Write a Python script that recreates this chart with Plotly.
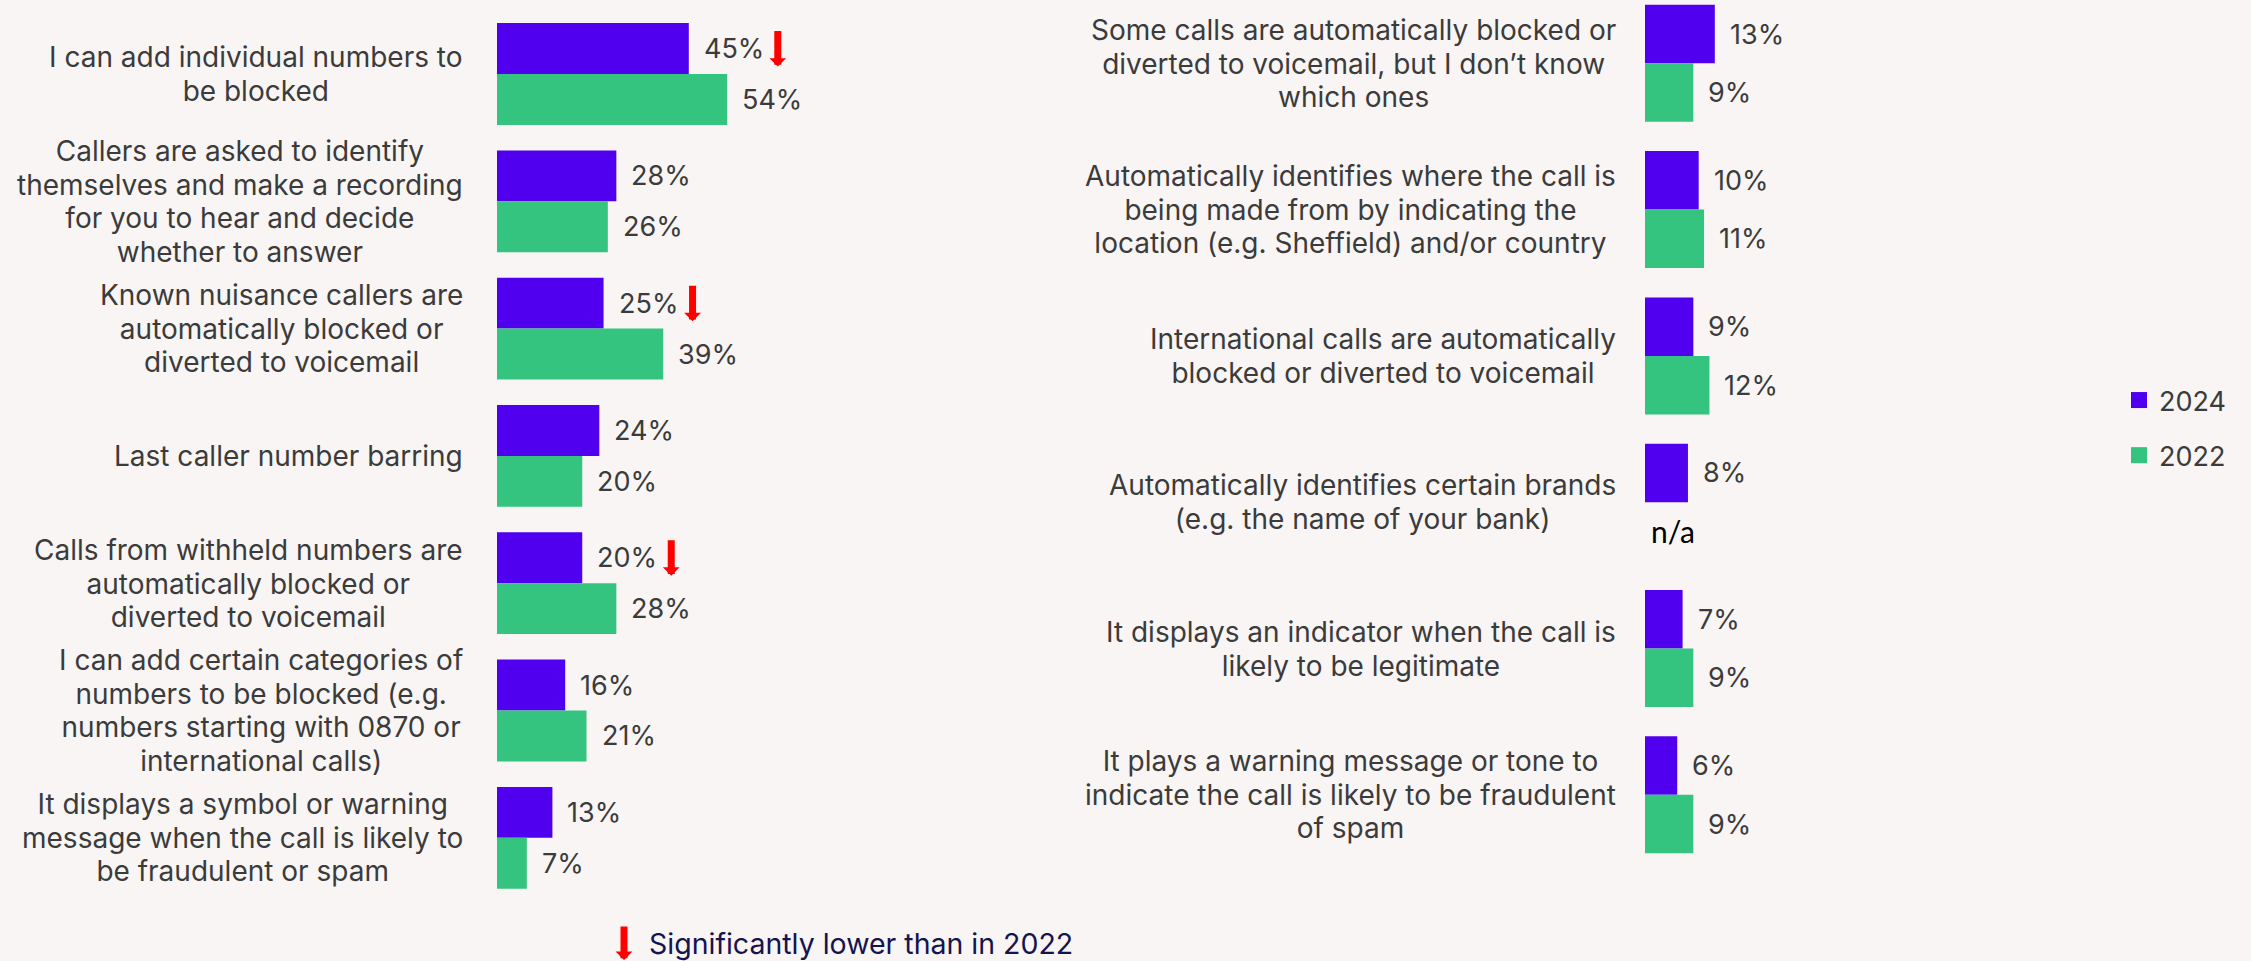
import plotly.graph_objects as go

# ---- data -------------------------------------------------------------
left_labels = [
    ["I can add individual numbers to", "be blocked"],
    ["Callers are asked to identify", "themselves and make a recording",
     "for you to hear and decide", "whether to answer"],
    ["Known nuisance callers are", "automatically blocked or",
     "diverted to voicemail"],
    ["Last caller number barring"],
    ["Calls from withheld numbers are", "automatically blocked or",
     "diverted to voicemail"],
    ["I can add certain categories of", "numbers to be blocked (e.g.",
     "numbers starting with 0870 or", "international calls)"],
    ["It displays a symbol or warning", "message when the call is likely to",
     "be fraudulent or spam"],
]
left_2024 = [45, 28, 25, 24, 20, 16, 13]
left_2022 = [54, 26, 39, 20, 28, 21, 7]
left_sig_lower = [True, False, True, False, True, False, False]

right_labels = [
    ["Some calls are automatically blocked or",
     "diverted to voicemail, but I don\u2019t know", "which ones"],
    ["Automatically identifies where the call is",
     "being made from by indicating the",
     "location (e.g. Sheffield) and/or country"],
    ["International calls are automatically",
     "blocked or diverted to voicemail"],
    ["Automatically identifies certain brands",
     "(e.g. the name of your bank)"],
    ["It displays an indicator when the call is",
     "likely to be legitimate"],
    ["It plays a warning message or tone to",
     "indicate the call is likely to be fraudulent", "of spam"],
]
right_2024 = [13, 10, 9, 8, 7, 6]
right_2022 = [9, 11, 12, None, 9, 9]

years = ["2024", "2022"]
note_text = "Significantly lower than in 2022"

# ---- style ------------------------------------------------------------
W, H = 2251, 961
BG = "#F8F5F4"
PURPLE = "#5000EF"
GREEN = "#35C47F"
TEXT = "#3B3B3B"
NAVY = "#14144F"
RED = "#FF0000"
FONT = "Inter"
LABEL_SIZE = 28          # glyph size of category labels
LINE_PITCH = 33.7        # distance between label lines (px)
VALUE_SIZE = 27

# left panel geometry (pixels)
L_X0, L_X1, L_PX = 497, 1000, 4.262      # bar origin, domain end, px per %
L_Y0, L_STEP = 74, 127.3                  # first group centre, group pitch
# right panel geometry
R_X0, R_X1, R_PX = 1645, 2100, 5.37
R_Y0, R_STEP = 63.3, 146.3

# significance arrow style
ARROW = dict(showarrow=True, ax=0, arrowhead=1, arrowwidth=7,
             arrowsize=0.4, arrowcolor=RED, standoff=0)

fig = go.Figure()

def add_panel(vals24, vals22, xa, ya):
    pos = list(range(len(vals24)))
    fig.add_trace(go.Bar(x=vals24, y=pos, orientation="h", name="2024",
                         marker=dict(color=PURPLE, line=dict(width=0)),
                         xaxis=xa, yaxis=ya, showlegend=False,
                         legendgroup="2024", hoverinfo="skip"))
    fig.add_trace(go.Bar(x=vals22, y=pos, orientation="h", name="2022",
                         marker=dict(color=GREEN, line=dict(width=0)),
                         xaxis=xa, yaxis=ya, showlegend=False,
                         legendgroup="2022", hoverinfo="skip"))

add_panel(left_2024, left_2022, "x", "y")
add_panel(right_2024, right_2022, "x2", "y2")

# legend entries (square swatches)
for yr, col in zip(years, [PURPLE, GREEN]):
    fig.add_trace(go.Scatter(x=[None], y=[None], mode="markers", name=yr,
                             marker=dict(symbol="square", size=16, color=col),
                             legendgroup=yr, showlegend=True))

annotations = []

def multiline(lines):
    # line pitch follows the annotation font size; glyphs are sized per span
    return "<br>".join(f"<span style='font-size:{LABEL_SIZE}px'>{s}</span>"
                       for s in lines)

def label_panel(labels, v24, v22, xref, yref, x_right_px, sig=None):
    for i, lines in enumerate(labels):
        annotations.append(dict(
            text=multiline(lines), x=x_right_px / W, xref="paper",
            xanchor="right", y=i, yref=yref, yanchor="middle",
            align="center", showarrow=False,
            font=dict(family=FONT, size=LINE_PITCH / 1.3, color=TEXT)))
        for v, off in ((v24[i], -0.2), (v22[i], 0.2)):
            if v is None:
                annotations.append(dict(
                    text="n/a", x=0, xref=xref, xanchor="left", xshift=4,
                    y=i + off, yref=yref, yanchor="middle", showarrow=False,
                    font=dict(family="Lato", size=30, color="#000000")))
            else:
                annotations.append(dict(
                    text=f"{v}%", x=v, xref=xref, xanchor="left", xshift=13,
                    y=i + off, yref=yref, yanchor="middle", showarrow=False,
                    font=dict(family=FONT, size=VALUE_SIZE, color=TEXT)))
        if sig is not None and sig[i]:
            annotations.append(dict(
                text="", x=v24[i], xref=xref, xshift=89,
                y=i - 0.2, yref=yref, yshift=-18, ay=-37, **ARROW))

label_panel(left_labels, left_2024, left_2022, "x", "y", 465, left_sig_lower)
label_panel(right_labels, right_2024, right_2022, "x2", "y2", 1618)

# key for the significance arrow
annotations.append(dict(
    text="", x=624 / W, xref="paper", y=1 - 960 / H, yref="paper",
    ay=-35, **ARROW))
annotations.append(dict(
    text=note_text, x=647 / W, xref="paper", xanchor="left",
    y=1 - 943 / H, yref="paper", yanchor="middle", showarrow=False,
    font=dict(family=FONT, size=28.5, color=NAVY)))

fig.update_layout(
    width=W, height=H,
    margin=dict(l=0, r=0, t=0, b=0),
    paper_bgcolor=BG, plot_bgcolor=BG,
    barmode="group", bargap=0.2, bargroupgap=0,
    showlegend=True,
    legend=dict(x=2119 / W, xanchor="left", y=1 - 376 / H, yanchor="top",
                font=dict(family=FONT, size=27, color=TEXT),
                bgcolor="rgba(0,0,0,0)", tracegroupgap=17,
                traceorder="grouped", itemclick=False),
    xaxis=dict(domain=[L_X0 / W, L_X1 / W], range=[0, (L_X1 - L_X0) / L_PX],
               visible=False, fixedrange=True),
    yaxis=dict(domain=[0, 1], range=[(H - L_Y0) / L_STEP, -L_Y0 / L_STEP],
               visible=False, fixedrange=True),
    xaxis2=dict(domain=[R_X0 / W, R_X1 / W], range=[0, (R_X1 - R_X0) / R_PX],
                visible=False, anchor="y2", fixedrange=True),
    yaxis2=dict(domain=[0, 1], range=[(H - R_Y0) / R_STEP, -R_Y0 / R_STEP],
                visible=False, anchor="x2", fixedrange=True),
    annotations=annotations,
    font=dict(family=FONT, color=TEXT),
)

fig.write_html("out.html")
